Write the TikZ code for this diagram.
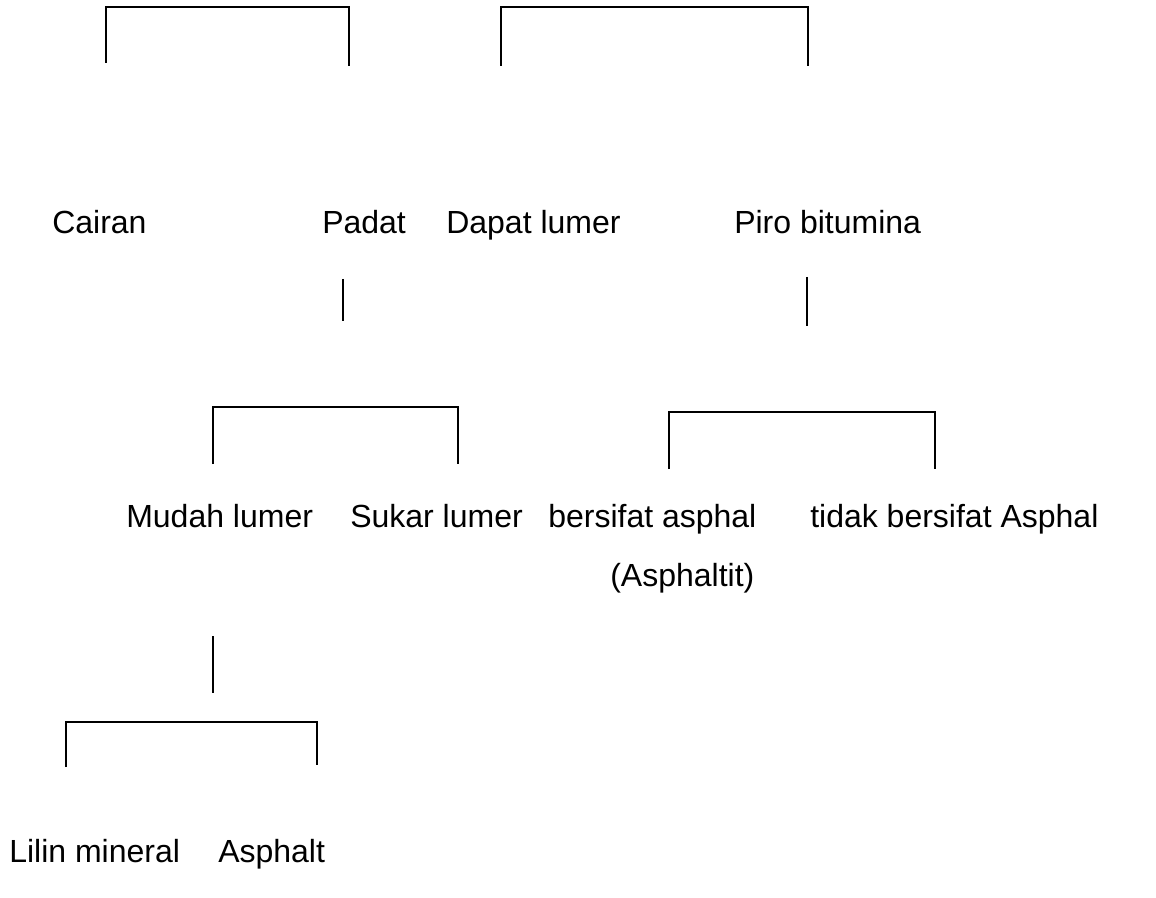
\documentclass[tikz,border=0pt]{standalone}
\usepackage{fontspec}
\setmainfont{Liberation Sans}
\tikzset{itemtext/.style={anchor=base west,inner sep=0,font=\fontsize{24}{28}\selectfont}}
\tikzset{branch/.style={line width=1.1pt}}

\begin{document}
\begin{tikzpicture}[x=0.75pt,y=-0.75pt]
\useasboundingbox (0,0) rectangle (1156,898);

% first bracket
\coordinate (a1) at (106,63);
\coordinate (a2) at (106,7);
\coordinate (a3) at (349,7);
\coordinate (a4) at (349,66);
% second bracket
\coordinate (b1) at (501,66);
\coordinate (b2) at (501,7);
\coordinate (b3) at (808,7);
\coordinate (b4) at (808,66);
% stems
\coordinate (s1) at (343,279);
\coordinate (s2) at (343,321);
\coordinate (t1) at (807,277);
\coordinate (t2) at (807,326);
% third bracket
\coordinate (c1) at (213,464);
\coordinate (c2) at (213,407);
\coordinate (c3) at (458,407);
\coordinate (c4) at (458,464);
% fourth bracket
\coordinate (d1) at (669,469);
\coordinate (d2) at (669,412);
\coordinate (d3) at (935,412);
\coordinate (d4) at (935,469);
% stem and fifth bracket
\coordinate (u1) at (213,636);
\coordinate (u2) at (213,693);
\coordinate (e1) at (66,767);
\coordinate (e2) at (66,722);
\coordinate (e3) at (317,722);
\coordinate (e4) at (317,765);

\draw[branch] (a1) -- (a2) -- (a3) -- (a4);
\draw[branch] (b1) -- (b2) -- (b3) -- (b4);
\draw[branch] (s1) -- (s2);
\draw[branch] (t1) -- (t2);
\draw[branch] (c1) -- (c2) -- (c3) -- (c4);
\draw[branch] (d1) -- (d2) -- (d3) -- (d4);
\draw[branch] (u1) -- (u2);
\draw[branch] (e1) -- (e2) -- (e3) -- (e4);

\node[itemtext] (cairan) at (52,234) {Cairan};
\node[itemtext] (padat) at (322,234) {Padat};
\node[itemtext] (dapat) at (446,234) {Dapat lumer};
\node[itemtext] (piro) at (734,234) {Piro bitumina};

\node[itemtext] (mudah) at (126,527) {Mudah lumer};
\node[itemtext] (sukar) at (350,527) {Sukar lumer};
\node[itemtext] (bersifat) at (548,527) {bersifat asphal};
\node[itemtext] (tidak) at (810,527) {tidak bersifat Asphal};
\node[itemtext] (asphaltit) at (610,586) {(Asphaltit)};

\node[itemtext] (lilin) at (9,862) {Lilin mineral};
\node[itemtext] (asphalt) at (218,862) {Asphalt};

\end{tikzpicture}
\end{document}
